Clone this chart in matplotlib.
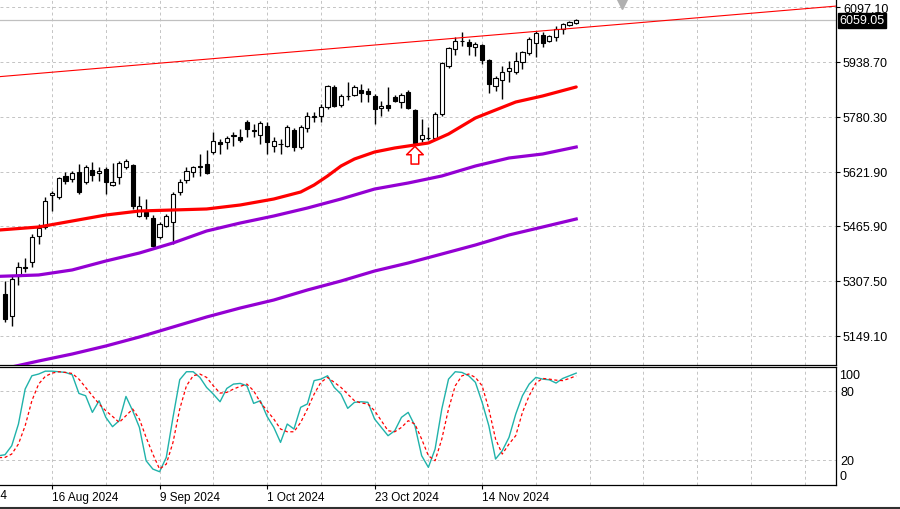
import numpy as np
import matplotlib
matplotlib.use("Agg")
import matplotlib.pyplot as plt
from matplotlib.lines import Line2D

plt.rcParams['font.family'] = ['Liberation Sans', 'DejaVu Sans']

# daily candles (bar 0 .. 85)
opens = [5269.2, 5205.7, 5321.2, 5347.0, 5361.5, 5436.4, 5462.4, 5556.0, 5549.0, 5609.6,
         5600.9, 5621.1, 5592.2, 5626.9, 5618.2, 5629.7, 5583.6, 5606.7, 5635.5, 5641.3,
         5494.2, 5505.7, 5488.4, 5433.6, 5465.3, 5476.8, 5563.4, 5598.0, 5621.1, 5635.0,
         5644.2, 5678.8, 5707.0, 5707.6, 5726.0, 5722.1, 5765.3, 5740.0, 5727.8, 5753.8,
         5696.1, 5702.0, 5696.1, 5742.3, 5693.2, 5748.0, 5781.0, 5782.7, 5808.6, 5866.4,
         5814.4, 5839.0, 5843.2, 5857.7, 5854.8, 5840.4, 5805.7, 5814.4, 5837.5, 5823.0,
         5851.9, 5800.0, 5716.3, 5718.0, 5719.2, 5788.4, 5926.9, 5976.0, 5998.0, 5996.1,
         5981.7, 5987.5, 5944.2, 5869.2, 5886.5, 5912.5, 5909.6, 5938.4, 5964.4, 5993.3,
         6016.3, 5999.0, 6010.6, 6033.7, 6045.2, 6051.0]
highs = [5306.6, 5321.2, 5361.5, 5373.0, 5442.2, 5471.0, 5549.0, 5566.3, 5606.7, 5621.1,
         5624.0, 5644.2, 5641.3, 5649.9, 5635.5, 5635.5, 5647.1, 5652.8, 5658.6, 5644.2,
         5551.9, 5543.2, 5497.0, 5476.8, 5500.0, 5563.4, 5600.9, 5635.5, 5638.4, 5673.0,
         5684.6, 5736.5, 5716.3, 5725.0, 5736.5, 5745.2, 5771.1, 5759.6, 5768.2, 5765.3,
         5722.1, 5716.3, 5756.7, 5748.0, 5756.7, 5794.2, 5794.2, 5817.3, 5872.1, 5872.1,
         5846.1, 5880.7, 5872.1, 5875.0, 5863.5, 5846.1, 5825.9, 5866.4, 5843.2, 5849.0,
         5857.7, 5802.9, 5774.0, 5750.9, 5794.2, 5938.4, 5981.7, 6010.6, 6025.0, 6004.8,
         5996.1, 5990.4, 5947.1, 5898.1, 5926.9, 5941.3, 5967.3, 5970.2, 6010.6, 6027.9,
         6025.0, 6016.3, 6042.3, 6051.0, 6056.7, 6062.0]
lows = [5188.4, 5176.8, 5295.1, 5332.6, 5347.0, 5413.4, 5456.6, 5508.6, 5543.2, 5586.5,
        5592.2, 5557.6, 5586.5, 5595.1, 5595.1, 5557.6, 5580.7, 5586.5, 5629.7, 5514.4,
        5491.3, 5485.5, 5404.7, 5427.8, 5462.4, 5413.4, 5554.7, 5589.4, 5606.7, 5609.6,
        5615.3, 5673.0, 5673.0, 5687.5, 5696.1, 5707.6, 5722.1, 5722.1, 5701.9, 5673.0,
        5678.8, 5673.0, 5693.2, 5681.7, 5687.5, 5736.5, 5765.3, 5765.3, 5802.9, 5808.6,
        5808.6, 5828.8, 5840.4, 5823.0, 5823.0, 5759.6, 5782.7, 5797.1, 5823.0, 5805.7,
        5802.9, 5701.9, 5707.6, 5713.4, 5716.3, 5782.7, 5921.1, 5958.6, 5984.6, 5958.6,
        5955.8, 5932.7, 5849.0, 5854.8, 5831.7, 5880.7, 5903.8, 5918.2, 5958.6, 5952.9,
        5981.7, 5996.1, 5999.0, 6019.2, 6042.3, 6048.1]
closes = [5197.0, 5312.4, 5347.0, 5343.0, 5433.6, 5459.5, 5537.4, 5560.0, 5603.8, 5595.1,
          5618.2, 5563.4, 5635.5, 5612.4, 5624.0, 5592.2, 5592.2, 5647.1, 5652.8, 5523.0,
          5523.0, 5494.2, 5407.6, 5471.0, 5494.2, 5557.6, 5592.2, 5624.0, 5635.5, 5637.0,
          5618.2, 5710.5, 5703.0, 5719.2, 5729.0, 5713.4, 5745.2, 5741.0, 5762.5, 5707.6,
          5710.5, 5703.0, 5750.9, 5693.2, 5750.9, 5782.7, 5784.0, 5808.6, 5869.2, 5811.5,
          5840.4, 5841.0, 5866.4, 5849.0, 5846.1, 5802.9, 5811.5, 5805.7, 5825.9, 5843.2,
          5805.7, 5704.8, 5727.8, 5720.0, 5788.4, 5935.6, 5978.8, 5999.0, 6000.0, 5984.6,
          5990.4, 5944.2, 5875.0, 5892.3, 5909.6, 5921.1, 5941.3, 5967.3, 6004.8, 6022.1,
          5993.3, 6013.5, 6033.7, 6048.1, 6053.8, 6059.05]

# moving averages
red_idx = [-1, 5, 10, 15, 20, 25, 30, 35, 40, 44, 46, 48, 50, 52, 55, 58, 61, 63, 66, 70, 73, 76, 80, 85]
red_ma = [5453.5, 5462.4, 5479.7, 5497.0, 5508.6, 5511.5, 5514.4, 5525.9, 5543.2, 5563.4, 5583.6, 5609.6,
          5638.4, 5658.6, 5678.8, 5690.4, 5699.0, 5704.8, 5730.7, 5776.9, 5800.0, 5823.0, 5840.4, 5866.4]
pur_idx = [-1, 5, 10, 15, 20, 25, 30, 35, 40, 45, 50, 55, 60, 65, 70, 75, 80, 85]
pur_ma1 = [5320.0, 5324.0, 5338.5, 5364.3, 5387.4, 5416.3, 5450.9, 5473.9, 5494.2,
           5517.2, 5543.2, 5572.0, 5589.4, 5609.6, 5638.4, 5661.5, 5673.0, 5693.2]
pur_ma2 = [5050.0, 5075.8, 5096.0, 5119.1, 5145.1, 5173.9, 5202.8, 5228.7, 5251.8,
           5280.7, 5306.6, 5335.5, 5358.6, 5384.5, 5410.5, 5439.4, 5462.4, 5485.5]

# trend line anchors
trend_x = [0, 85]
trend_y = [5897.5, 6036.5]

# stochastic, bars -1 .. 85
stoch_k = [23.6,
           24.5, 32.3, 51.1, 81.4, 92.9, 94.4, 96.9, 96.9, 96.4, 95.8,
           93.8, 77.6, 75.6, 61.2, 71.3, 56.9, 48.8, 54.0, 75.0, 62.6,
           48.2, 19.3, 12.1, 9.8, 22.2, 56.9, 89.5, 96.4, 96.4, 91.5,
           82.8, 77.0, 70.4, 81.9, 85.7, 86.3, 84.2, 69.0, 71.3, 57.7,
           48.2, 35.2, 51.1, 46.8, 65.6, 68.5, 88.7, 90.0, 92.9, 82.8,
           77.0, 64.7, 69.9, 70.4, 69.9, 55.4, 48.2, 41.0, 45.3, 56.9,
           61.2, 49.6, 23.7, 13.6, 29.4, 64.1, 90.0, 96.4, 95.8, 92.9,
           87.2, 69.9, 49.6, 20.8, 28.0, 39.5, 59.7, 75.6, 85.7, 91.5,
           90.0, 89.4, 86.6, 90.6, 92.9, 95.2]
stoch_d = [22.0,
           22.2, 25.1, 33.8, 49.6, 71.3, 85.7, 92.4, 95.2, 96.4, 95.8,
           94.9, 90.0, 82.8, 75.6, 68.5, 62.6, 57.7, 52.5, 58.3, 64.1,
           55.4, 39.5, 25.1, 12.1, 16.4, 35.2, 64.1, 84.2, 92.9, 94.4,
           91.5, 84.2, 77.9, 78.5, 81.4, 83.7, 85.7, 79.9, 69.9, 62.6,
           55.4, 46.8, 44.4, 44.4, 52.5, 64.1, 77.0, 87.2, 91.5, 87.2,
           82.8, 77.0, 71.3, 69.3, 68.5, 62.6, 54.0, 45.3, 44.4, 48.2,
           54.0, 51.1, 38.1, 23.7, 19.3, 38.1, 64.1, 84.2, 92.9, 94.4,
           91.5, 84.2, 64.1, 38.1, 25.1, 33.8, 41.0, 61.2, 75.6, 86.6,
           90.6, 90.0, 89.1, 88.7, 90.6, 92.9]

price_ticks = [5149.10, 5307.50, 5465.90, 5621.90, 5780.30, 5938.70, 6097.10]
date_pos = [7, 23, 39, 55, 71]
date_labels = ["16 Aug 2024", "9 Sep 2024", "1 Oct 2024", "23 Oct 2024", "14 Nov 2024"]
first_date_pos = -9
first_date_label = "25 Jul 2024"
last_price = 6059.05

W, H = 900, 510
fig = plt.figure(figsize=(W / 100, H / 100), dpi=100)
ax = fig.add_axes([0, (H - 366) / H, 836 / W, 366 / H])
ax2 = fig.add_axes([0, (H - 486) / H, 836 / W, (486 - 368) / H], sharex=ax)

grid_kw = dict(color='#c4c4c4', lw=0.7, ls=(0, (3, 3)), zorder=0.5)
grid_x = np.arange(-1, 124, 8)
for gx in grid_x:
    ax.axvline(gx, **grid_kw)
    ax2.axvline(gx, **grid_kw)
for p in price_ticks:
    ax.axhline(p, **grid_kw)
for lv in [20, 80]:
    ax2.axhline(lv, **grid_kw)

# candles
o = np.array(opens); h = np.array(highs); l = np.array(lows); c = np.array(closes)
idx = np.arange(len(o))
up = c >= o
ax.vlines(idx, l, h, color='black', lw=1, zorder=3)
bot = np.minimum(o, c)
hgt = np.maximum(np.abs(c - o), 1.0)
ax.bar(idx[up], hgt[up], bottom=bot[up], width=0.62, facecolor='white',
       edgecolor='black', lw=0.8, zorder=4)
ax.bar(idx[~up], hgt[~up], bottom=bot[~up], width=0.62, facecolor='black',
       edgecolor='black', lw=0.8, zorder=4)

ax.axhline(last_price, color='#c0c0c0', lw=0.9, zorder=1)
ax.plot(red_idx, red_ma, color='red', lw=2.3, zorder=5, solid_capstyle='round')
ax.plot(pur_idx, pur_ma1, color='#9400D3', lw=2.3, zorder=5)
ax.plot(pur_idx, pur_ma2, color='#9400D3', lw=2.3, zorder=5)
ax.axline((trend_x[0], trend_y[0]), (trend_x[1], trend_y[1]), color='red', lw=0.8, zorder=5)

ax.annotate('', xy=(61, 5703), xytext=(61, 5636),
            arrowprops=dict(arrowstyle='simple,head_width=1.2,head_length=0.6,tail_width=0.55',
                            fc='white', ec='red', lw=1.1), zorder=6)

ax.plot([0.744], [0.985], marker='v', color='#b0b0b0', ms=7, transform=ax.transAxes, clip_on=False)

ax.yaxis.tick_right()
ax.set_yticks(price_ticks)
ax.set_yticklabels([f"{p:.2f}" for p in price_ticks])
ax.tick_params(axis='y', length=3, width=0.8, pad=2, labelsize=9, colors='black')
ax.tick_params(axis='x', length=0, labelbottom=False)
for s in ['left', 'top']:
    ax.spines[s].set_visible(False)
ax.spines['right'].set_linewidth(0.9)
ax.spines['bottom'].set_linewidth(0.9)

ax.text(1.004, last_price, f"{last_price:.2f}", transform=ax.get_yaxis_transform(),
        color='white', fontsize=9, va='center', ha='left',
        bbox=dict(facecolor='black', edgecolor='black', pad=1.2))

# stochastic
st_idx = np.arange(-1, len(stoch_k) - 1)
ax2.plot(st_idx, stoch_k, color='#20B2AA', lw=1.0, zorder=3)
ax2.plot(st_idx, stoch_d, color='red', lw=0.9, ls=(0, (2.5, 2)), zorder=3)
ax2.yaxis.tick_right()
ax2.set_yticks([20, 80])
ax2.set_yticklabels(['20', '80'])
ax2.tick_params(axis='y', length=0, pad=3, labelsize=9)
ax2.text(1.004, 93.5, '100', transform=ax2.get_yaxis_transform(), fontsize=9, va='center', ha='left')
ax2.text(1.004, 6.1, '0', transform=ax2.get_yaxis_transform(), fontsize=9, va='center', ha='left')
ax2.spines['left'].set_visible(False)
for s in ['top', 'right', 'bottom']:
    ax2.spines[s].set_linewidth(0.9)

ax2.set_xticks(date_pos)
ax2.set_xticklabels(date_labels)
ax2.tick_params(axis='x', length=3, width=0.8, pad=1, labelsize=8.5)
for lbl in ax2.get_xticklabels():
    lbl.set_horizontalalignment('left')
# label of the tick just left of the view, only its tail shows
ax2.text(first_date_pos + 0.15, -0.035, first_date_label, transform=ax2.get_xaxis_transform(),
         fontsize=8.5, ha='left', va='top', clip_on=False)

# dark frame line along the bottom edge
fig.add_artist(Line2D([0, 1], [1.5 / H, 1.5 / H], color='#303030', lw=1.5))

# limits last, set_xticks would widen them
ax.set_xlim(-0.744, 123.66)
ax.set_ylim(5064.3, 6120.2)
ax2.set_ylim(-1.7, 100.5)

fig.savefig("out.png", dpi=100, facecolor='white')
